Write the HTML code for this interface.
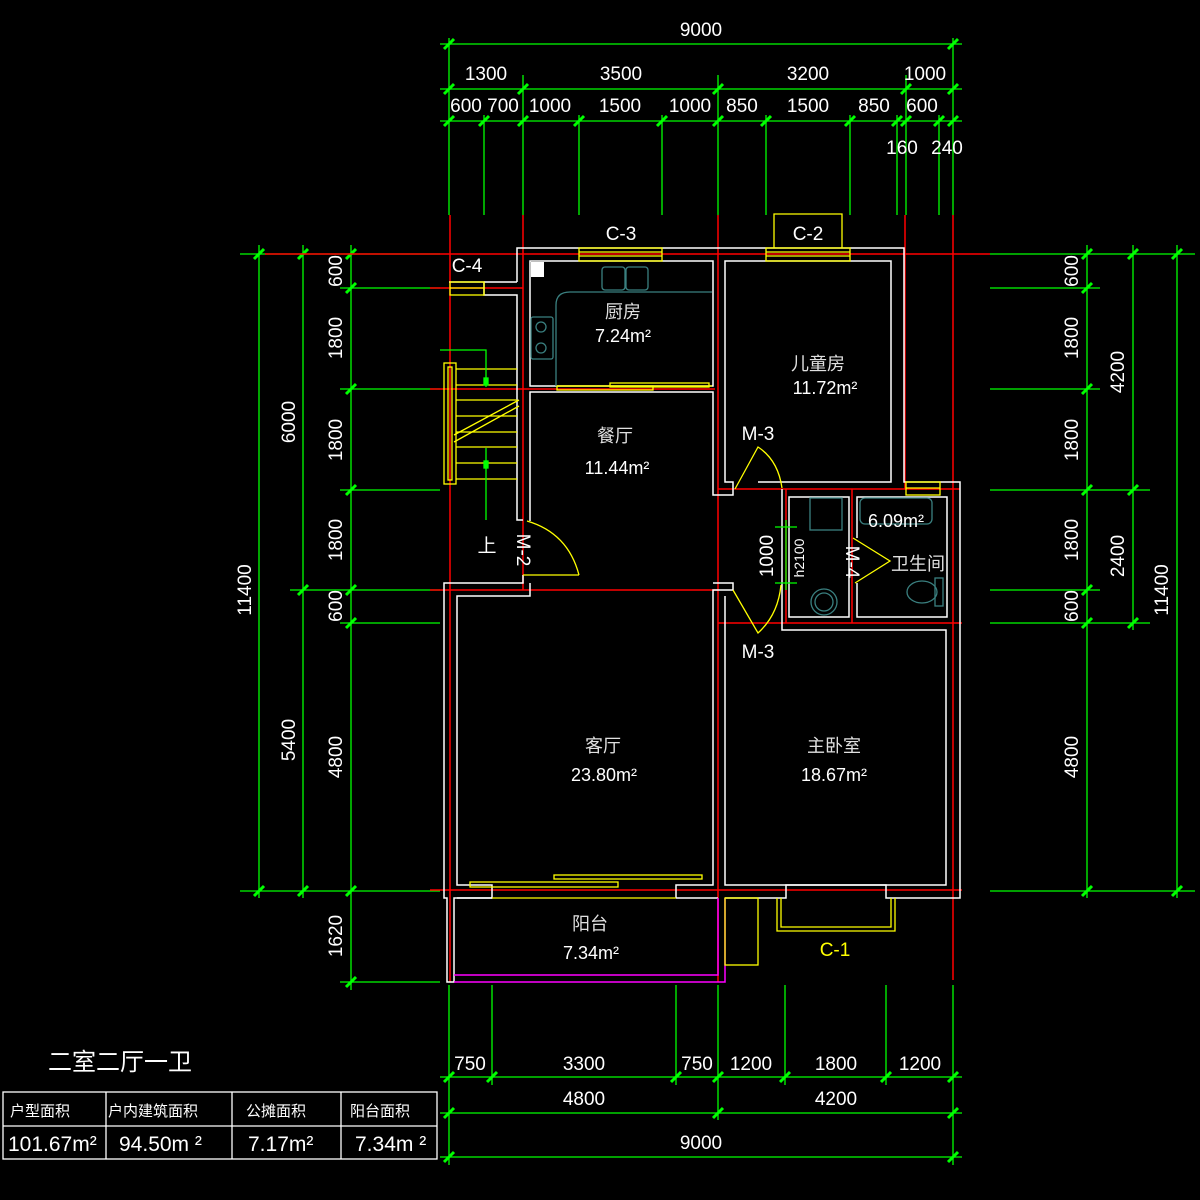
<!DOCTYPE html>
<html><head><meta charset="utf-8"><style>
html,body{margin:0;padding:0;background:#000;}
svg{display:block}
text{font-family:"Liberation Sans","Noto Sans CJK SC",sans-serif;fill:#fff;}
.d{font-size:19px;text-anchor:middle}
.r{font-size:18px;text-anchor:middle;fill:#e0e0e0}
</style></head><body>
<svg width="1200" height="1200" viewBox="0 0 1200 1200" xmlns="http://www.w3.org/2000/svg">
<defs><g id="t"><line x1="-5" y1="5" x2="5" y2="-5" stroke="#0f0" stroke-width="3"/></g></defs>
<rect width="1200" height="1200" fill="#000"/>

<!-- green dimension lines -->
<g stroke="#0f0" stroke-width="1.3" fill="none">
<!-- top -->
<line x1="440" y1="44" x2="962" y2="44"/><line x1="440" y1="89" x2="962" y2="89"/><line x1="440" y1="121" x2="962" y2="121"/>
<line x1="449" y1="38" x2="449" y2="215"/><line x1="953" y1="38" x2="953" y2="215"/>
<line x1="523" y1="75" x2="523" y2="215"/><line x1="718" y1="75" x2="718" y2="215"/><line x1="906" y1="75" x2="906" y2="215"/>
<line x1="484" y1="115" x2="484" y2="215"/><line x1="579" y1="115" x2="579" y2="215"/><line x1="662" y1="115" x2="662" y2="215"/>
<line x1="766" y1="115" x2="766" y2="215"/><line x1="850" y1="115" x2="850" y2="215"/><line x1="897" y1="115" x2="897" y2="215"/><line x1="939" y1="115" x2="939" y2="215"/>
<!-- left -->
<line x1="259" y1="245" x2="259" y2="898"/><line x1="303" y1="245" x2="303" y2="898"/><line x1="351" y1="245" x2="351" y2="990"/>
<line x1="240" y1="254" x2="440" y2="254"/><line x1="240" y1="891" x2="440" y2="891"/><line x1="290" y1="590" x2="440" y2="590"/>
<line x1="340" y1="288" x2="440" y2="288"/><line x1="340" y1="389" x2="440" y2="389"/><line x1="340" y1="490" x2="440" y2="490"/><line x1="340" y1="623" x2="440" y2="623"/><line x1="340" y1="982" x2="440" y2="982"/>
<!-- right -->
<line x1="1087" y1="245" x2="1087" y2="898"/><line x1="1133" y1="245" x2="1133" y2="630"/><line x1="1177" y1="245" x2="1177" y2="898"/>
<line x1="990" y1="254" x2="1195" y2="254"/><line x1="990" y1="891" x2="1195" y2="891"/><line x1="990" y1="490" x2="1150" y2="490"/><line x1="990" y1="623" x2="1150" y2="623"/>
<line x1="990" y1="288" x2="1100" y2="288"/><line x1="990" y1="389" x2="1100" y2="389"/><line x1="990" y1="590" x2="1100" y2="590"/>
<!-- bottom -->
<line x1="440" y1="1077" x2="962" y2="1077"/><line x1="440" y1="1113" x2="962" y2="1113"/><line x1="440" y1="1157" x2="962" y2="1157"/>
<line x1="449" y1="985" x2="449" y2="1165"/><line x1="953" y1="985" x2="953" y2="1165"/><line x1="718" y1="985" x2="718" y2="1120"/>
<line x1="492" y1="985" x2="492" y2="1085"/><line x1="676" y1="985" x2="676" y2="1085"/><line x1="785" y1="985" x2="785" y2="1085"/><line x1="886" y1="985" x2="886" y2="1085"/>
</g>
<g>
<use href="#t" x="449" y="44"/><use href="#t" x="953" y="44"/>
<use href="#t" x="449" y="89"/><use href="#t" x="523" y="89"/><use href="#t" x="718" y="89"/><use href="#t" x="906" y="89"/><use href="#t" x="953" y="89"/>
<use href="#t" x="449" y="121"/><use href="#t" x="484" y="121"/><use href="#t" x="523" y="121"/><use href="#t" x="579" y="121"/><use href="#t" x="662" y="121"/><use href="#t" x="718" y="121"/><use href="#t" x="766" y="121"/><use href="#t" x="850" y="121"/><use href="#t" x="897" y="121"/><use href="#t" x="906" y="121"/><use href="#t" x="939" y="121"/><use href="#t" x="953" y="121"/>
<use href="#t" x="259" y="254"/><use href="#t" x="259" y="891"/><use href="#t" x="303" y="254"/><use href="#t" x="303" y="590"/><use href="#t" x="303" y="891"/>
<use href="#t" x="351" y="254"/><use href="#t" x="351" y="288"/><use href="#t" x="351" y="389"/><use href="#t" x="351" y="490"/><use href="#t" x="351" y="590"/><use href="#t" x="351" y="623"/><use href="#t" x="351" y="891"/><use href="#t" x="351" y="982"/>
<use href="#t" x="1087" y="254"/><use href="#t" x="1087" y="288"/><use href="#t" x="1087" y="389"/><use href="#t" x="1087" y="490"/><use href="#t" x="1087" y="590"/><use href="#t" x="1087" y="623"/><use href="#t" x="1087" y="891"/>
<use href="#t" x="1133" y="254"/><use href="#t" x="1133" y="490"/><use href="#t" x="1133" y="623"/><use href="#t" x="1177" y="254"/><use href="#t" x="1177" y="891"/>
<use href="#t" x="449" y="1077"/><use href="#t" x="492" y="1077"/><use href="#t" x="676" y="1077"/><use href="#t" x="718" y="1077"/><use href="#t" x="785" y="1077"/><use href="#t" x="886" y="1077"/><use href="#t" x="953" y="1077"/>
<use href="#t" x="449" y="1113"/><use href="#t" x="718" y="1113"/><use href="#t" x="953" y="1113"/><use href="#t" x="449" y="1157"/><use href="#t" x="953" y="1157"/>
</g>

<!-- red axes -->
<g stroke="#f00" stroke-width="1.5">
<line x1="450" y1="215" x2="450" y2="982"/><line x1="523" y1="215" x2="523" y2="590"/><line x1="718" y1="215" x2="718" y2="982"/>
<line x1="905" y1="215" x2="905" y2="489"/><line x1="953" y1="215" x2="953" y2="980"/>
<line x1="786" y1="489" x2="786" y2="623"/><line x1="852" y1="489" x2="852" y2="623"/>
<line x1="265" y1="254" x2="990" y2="254"/><line x1="430" y1="288" x2="523" y2="288"/><line x1="430" y1="389" x2="715" y2="389"/>
<line x1="718" y1="489" x2="960" y2="489"/><line x1="430" y1="590" x2="718" y2="590"/><line x1="718" y1="623" x2="962" y2="623"/><line x1="430" y1="890" x2="962" y2="890"/>
</g>

<!-- walls white -->
<g stroke="#fff" stroke-width="1.5" fill="none">
<polyline points="517,282 517,248 904,248 904,482 960,482 960,898 886,898 886,885 786,885 786,898 725,898"/>
<polyline points="449,282 484,282 484,295 517,295 517,520 523,520"/>
<line x1="484" y1="282" x2="517" y2="282"/>
<rect x="530" y="261" width="183" height="125"/>
<polyline points="530,521 530,392 713,392 713,495 733,495 733,482 725,482 725,261 891,261 891,482 758,482"/>
<polyline points="523,575 523,583 444,583 444,898 447,898 447,982 454,982 454,898 492,898 492,885 457,885 457,596 530,596 530,583"/>
<polyline points="676,898 676,885 713,885 713,590 733,590 733,583 713,583"/>
<polyline points="725,596 725,885 946,885 946,630 782,630 782,489"/>
<line x1="676" y1="898" x2="718" y2="898"/>
<rect x="789" y="497" width="60" height="120"/>
<polyline points="857,538 857,497 947,497 947,617 857,617 857,583"/>
<line x1="457" y1="898" x2="492" y2="898"/>
</g>
<!-- magenta balcony -->
<g stroke="#f0f" stroke-width="1.5" fill="none">
<polyline points="454,982 725,982 725,898"/><polyline points="454,975 718,975 718,898"/>
</g>

<!-- yellow windows/doors -->
<g stroke="#ff0" stroke-width="1.3" fill="none">
<rect x="579" y="248" width="83" height="13"/><line x1="579" y1="252" x2="662" y2="252"/><line x1="579" y1="256" x2="662" y2="256"/>
<rect x="766" y="248" width="84" height="13"/><line x1="766" y1="252" x2="850" y2="252"/><line x1="766" y1="256" x2="850" y2="256"/>
<polyline points="774,248 774,214 842,214 842,248"/>
<rect x="450" y="282" width="34" height="13"/><line x1="450" y1="288" x2="484" y2="288"/>
<rect x="906" y="482" width="34" height="13"/><line x1="906" y1="488" x2="940" y2="488"/>
<line x1="556" y1="386" x2="712" y2="386"/><rect x="557" y="386" width="96" height="4"/><rect x="610" y="383" width="99" height="4"/>
<rect x="470" y="882" width="148" height="5"/><rect x="554" y="875" width="148" height="4"/>
<line x1="492" y1="898" x2="676" y2="898"/>
<rect x="725" y="898" width="33" height="67"/>
<polyline points="777,898 777,931 895,931 895,898"/><polyline points="781,898 781,927 891,927 891,898"/>
<rect x="444" y="363" width="12" height="121"/><rect x="448" y="367" width="4" height="113"/>
<line x1="456" y1="369" x2="517" y2="369"/><line x1="456" y1="385" x2="517" y2="385"/><line x1="456" y1="400" x2="517" y2="400"/>
<line x1="456" y1="416" x2="517" y2="416"/><line x1="456" y1="432" x2="517" y2="432"/><line x1="456" y1="447" x2="517" y2="447"/>
<line x1="456" y1="463" x2="517" y2="463"/><line x1="456" y1="479" x2="517" y2="479"/>
<line x1="454" y1="435" x2="519" y2="400"/><line x1="454" y1="442" x2="519" y2="406"/>
<line x1="523" y1="575" x2="579" y2="575"/><path d="M527,521 Q568,533 579,575"/>
<path d="M735,489 L758,447 Q778,460 782,488"/>
<path d="M733,590 L758,633 Q778,615 781,585"/>
<path d="M853,538 L890,561 L855,583"/>
</g>
<!-- stair arrow -->
<g stroke="#0f0" stroke-width="1.3"><polyline points="440,350 486,350 486,387" fill="none"/><line x1="486" y1="448" x2="486" y2="520"/><rect x="484" y="378" width="4" height="7" fill="#0f0"/><rect x="484" y="461" width="4" height="7" fill="#0f0"/>
<line x1="775" y1="527" x2="797" y2="527"/><line x1="775" y1="583" x2="797" y2="583"/><line x1="786" y1="520" x2="786" y2="590"/></g>

<!-- teal fixtures -->
<g stroke="#3a8080" stroke-width="1.3" fill="none">
<rect x="602" y="267" width="23" height="23" rx="3"/><rect x="626" y="267" width="22" height="23" rx="3"/>
<path d="M556,386 L556,305 Q556,292 570,292 L712,292"/>
<rect x="531" y="317" width="22" height="42" rx="2"/><circle cx="541" cy="327" r="5"/><circle cx="541" cy="348" r="5"/>
<rect x="810" y="498" width="32" height="32"/><circle cx="824" cy="602" r="13"/><circle cx="824" cy="602" r="9"/>
<rect x="860" y="498" width="72" height="26" rx="5"/>
<ellipse cx="922" cy="592" rx="15" ry="11"/><rect x="935" y="578" width="8" height="28"/>
</g>
<rect x="531" y="262" width="13" height="15" fill="#fff"/>

<!-- room labels -->
<text class="r" x="623" y="318">厨房</text><text class="r" x="623" y="342" style="fill:#fff">7.24m²</text>
<text class="r" x="818" y="370">儿童房</text><text class="r" x="825" y="394" style="fill:#fff">11.72m²</text>
<text class="r" x="615" y="442">餐厅</text><text class="r" x="617" y="474" style="fill:#fff">11.44m²</text>
<text class="r" x="603" y="752">客厅</text><text class="r" x="604" y="781" style="fill:#fff">23.80m²</text>
<text class="r" x="834" y="752">主卧室</text><text class="r" x="834" y="781" style="fill:#fff">18.67m²</text>
<text class="r" x="590" y="930">阳台</text><text class="r" x="591" y="959" style="fill:#fff">7.34m²</text>
<text class="r" x="918" y="570">卫生间</text><text class="r" x="896" y="527" style="fill:#fff">6.09m²</text>
<text class="d" x="621" y="240">C-3</text><text class="d" x="808" y="240">C-2</text><text class="d" x="467" y="272">C-4</text>
<text class="d" x="758" y="440">M-3</text><text class="d" x="758" y="658">M-3</text>
<text class="d" x="835" y="956" style="fill:#ff0">C-1</text>
<text class="d" x="487" y="552">上</text>
<text class="d" transform="translate(517,550) rotate(90)">M-2</text>
<text class="d" transform="translate(846,562) rotate(90)">M-4</text>
<text class="d" transform="translate(773,556) rotate(-90)">1000</text>
<text class="d" style="font-size:14px" transform="translate(804,558) rotate(-90)">h2100</text>

<!-- dim text -->
<g class="d">
<text class="d" x="701" y="36">9000</text>
<text class="d" x="486" y="80">1300</text><text class="d" x="621" y="80">3500</text><text class="d" x="808" y="80">3200</text><text class="d" x="925" y="80">1000</text>
<text class="d" x="466" y="112">600</text><text class="d" x="503" y="112">700</text><text class="d" x="550" y="112">1000</text><text class="d" x="620" y="112">1500</text><text class="d" x="690" y="112">1000</text>
<text class="d" x="742" y="112">850</text><text class="d" x="808" y="112">1500</text><text class="d" x="874" y="112">850</text><text class="d" x="922" y="112">600</text>
<text class="d" x="902" y="154">160</text><text class="d" x="947" y="154">240</text>
<text class="d" x="470" y="1070">750</text><text class="d" x="584" y="1070">3300</text><text class="d" x="697" y="1070">750</text><text class="d" x="751" y="1070">1200</text><text class="d" x="836" y="1070">1800</text><text class="d" x="920" y="1070">1200</text>
<text class="d" x="584" y="1105">4800</text><text class="d" x="836" y="1105">4200</text><text class="d" x="701" y="1149">9000</text>
</g>
<g>
<text class="d" transform="translate(342,271) rotate(-90)">600</text>
<text class="d" transform="translate(342,338) rotate(-90)">1800</text>
<text class="d" transform="translate(342,440) rotate(-90)">1800</text>
<text class="d" transform="translate(342,540) rotate(-90)">1800</text>
<text class="d" transform="translate(342,606) rotate(-90)">600</text>
<text class="d" transform="translate(342,757) rotate(-90)">4800</text>
<text class="d" transform="translate(342,936) rotate(-90)">1620</text>
<text class="d" transform="translate(295,422) rotate(-90)">6000</text>
<text class="d" transform="translate(295,740) rotate(-90)">5400</text>
<text class="d" transform="translate(251,590) rotate(-90)">11400</text>
<text class="d" transform="translate(1078,271) rotate(-90)">600</text>
<text class="d" transform="translate(1078,338) rotate(-90)">1800</text>
<text class="d" transform="translate(1078,440) rotate(-90)">1800</text>
<text class="d" transform="translate(1078,540) rotate(-90)">1800</text>
<text class="d" transform="translate(1078,606) rotate(-90)">600</text>
<text class="d" transform="translate(1078,757) rotate(-90)">4800</text>
<text class="d" transform="translate(1124,372) rotate(-90)">4200</text>
<text class="d" transform="translate(1124,556) rotate(-90)">2400</text>
<text class="d" transform="translate(1168,590) rotate(-90)">11400</text>
</g>

<!-- table -->
<text x="48" y="1070" style="font-size:24px">二室二厅一卫</text>
<g stroke="#fff" stroke-width="1.3" fill="none">
<rect x="3" y="1092" width="434" height="67"/><line x1="3" y1="1126" x2="437" y2="1126"/>
<line x1="106" y1="1092" x2="106" y2="1159"/><line x1="232" y1="1092" x2="232" y2="1159"/><line x1="341" y1="1092" x2="341" y2="1159"/>
</g>
<text x="10" y="1116" style="font-size:15px">户型面积</text><text x="108" y="1116" style="font-size:15px">户内建筑面积</text>
<text x="246" y="1116" style="font-size:15px">公摊面积</text><text x="350" y="1116" style="font-size:15px">阳台面积</text>
<text x="8" y="1151" style="font-size:21px">101.67m²</text><text x="119" y="1151" style="font-size:21px">94.50m ²</text>
<text x="248" y="1151" style="font-size:21px">7.17m²</text><text x="355" y="1151" style="font-size:21px">7.34m ²</text>
</svg>
</body></html>
